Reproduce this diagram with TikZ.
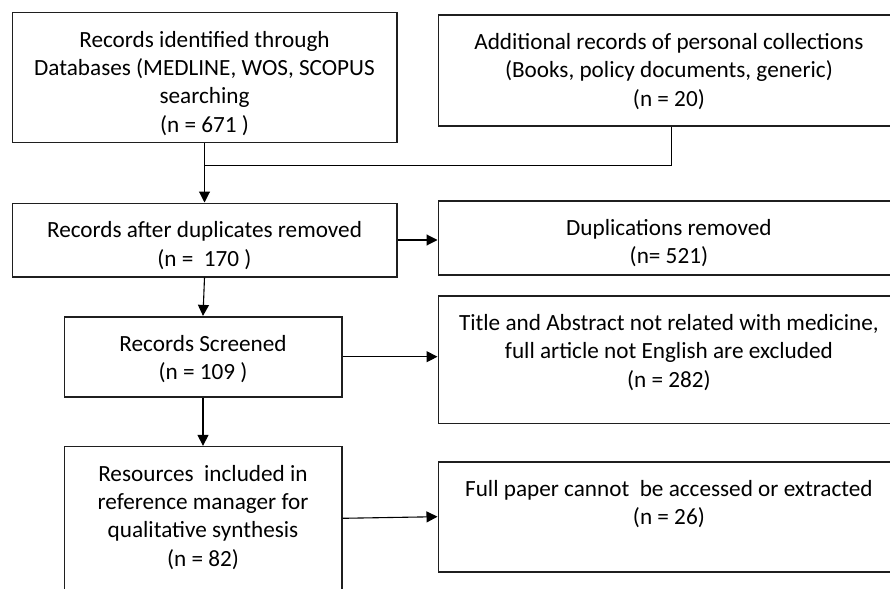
\documentclass[tikz,border=0pt]{standalone}
\usepackage{fontspec}
\setmainfont{Carlito}
\usetikzlibrary{arrows.meta,calc}

% box body: fixed-size minipage, first baseline a fixed distance below the top
\newcommand{\flowbody}[3]{%
  \begin{minipage}[t][#2][t]{#1}\centering\rule{0pt}{34.5pt}#3\end{minipage}}

\begin{document}
\begin{tikzpicture}[x=1pt,y=-1pt,
  flowbox/.style={draw=black!88,line width=1.6pt,inner sep=0pt,
    font=\fontsize{23.2}{28.3}\selectfont},
  link/.style={line width=1.1pt,-{Triangle[length=11pt,width=11pt]}},
  plain/.style={line width=1.1pt}]
\useasboundingbox (0,0) rectangle (890,588);
\clip (0,0) rectangle (890,588);

% left column
\node[flowbox] (B1) at (204.5,77.7) {\flowbody{384.4pt}{130pt}{Records identified through\\Databases (MEDLINE, WOS, SCOPUS\\searching\\(n = 671 )}};
\node[flowbox] (B3) at (204.5,240) {\flowbody{384.4pt}{73.4pt}{Records after duplicates removed\\(n =\ \ 170 )}};
\node[flowbox] (B5) at (203,356.7) {\flowbody{277.4pt}{80pt}{Records Screened\\(n = 109 )}};
\node[flowbox] (B7) at (203,518.3) {\flowbody{277.4pt}{143.3pt}{Resources\ \ included in\\reference manager for\\qualitative synthesis\\(n = 82)}};

% right column
\node[flowbox] (B2) at (668.9,70.5) {\flowbody{461.2pt}{111pt}{Additional records of personal collections\\(Books, policy documents, generic)\\(n = 20)}};
\node[flowbox] (B4) at (668.9,238) {\flowbody{461.2pt}{74pt}{Duplications removed\\(n= 521)}};
\node[flowbox] (B6) at (668.9,359.7) {\flowbody{461.2pt}{127.3pt}{Title and Abstract not related with medicine,\\full article not English are excluded\\(n = 282)}};
\node[flowbox] (B8) at (668.9,516.7) {\flowbody{461.2pt}{110pt}{Full paper cannot\ \ be accessed or extracted\\(n = 26)}};

% connectors
\path (B1.south) ++(0,21.6) coordinate (merge);
\draw[link] (B1.south) -- (B3.north);
\draw[plain] ([xshift=2.8pt]B2.south) |- (merge);
\draw[link] (B3.east) -- (B3.east -| B4.west);
\draw[link] (B3.south) -- (B5.north);
\draw[link] (B5.east) -- (B5.east -| B6.west);
\draw[link] (B5.south) -- (B7.north);
\draw[link] (B7.east) -- (B8.west);
\end{tikzpicture}
\end{document}
